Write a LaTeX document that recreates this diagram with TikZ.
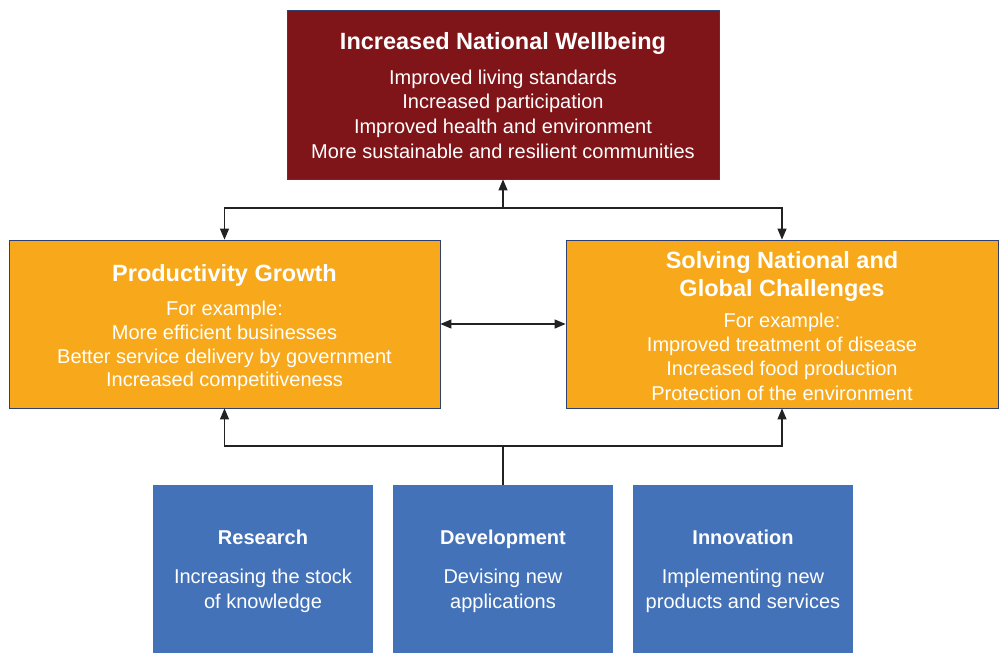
\documentclass[tikz,border=0pt]{standalone}
\usepackage{fontspec}
\setmainfont{Liberation Sans}
\usetikzlibrary{arrows.meta}
\definecolor{wine}{HTML}{7F1518}
\definecolor{amber}{HTML}{F7A81B}
\definecolor{steel}{HTML}{4472B8}
\definecolor{edge}{HTML}{2E3F73}
\definecolor{linec}{HTML}{222222}
\newcommand\ttlfont{\fontsize{23.5}{29}\selectfont\bfseries}
\newcommand\smttl{\fontsize{20}{24}\selectfont\bfseries}
\begin{document}
\begin{tikzpicture}[x=1pt,y=-1pt,
  shell/.style={inner sep=0pt},
  framed/.style={shell, draw=edge, line width=0.8pt},
  txt/.style={inner sep=0pt, align=center, text=white, font=\fontsize{20}{24.7}\selectfont},
  conn/.style={draw=linec, line width=1.2pt},
  arr/.style={conn, -{Triangle[length=11pt,width=9pt]}},
  darr/.style={conn, {Triangle[length=11pt,width=9pt]}-{Triangle[length=11pt,width=9pt]}}]
\useasboundingbox (0,0) rectangle (1001,664);
\node[framed, fill=wine, minimum width=432pt, minimum height=169pt] (top) at (503,94.5) {};
\node[framed, fill=amber, minimum width=431pt, minimum height=168pt] (prod) at (224.5,324) {};
\node[framed, fill=amber, minimum width=432pt, minimum height=168pt] (solve) at (782,324) {};
\node[shell, fill=steel, minimum width=220pt, minimum height=168pt] (res) at (263,569) {};
\node[shell, fill=steel, minimum width=220pt, minimum height=168pt] (dev) at (503,569) {};
\node[shell, fill=steel, minimum width=220pt, minimum height=168pt] (inn) at (743,569) {};
\node[txt] (toptxt) at ([yshift=-1pt]top.center)
  {\ttlfont Increased National Wellbeing\\[10pt]
   Improved living standards\\ Increased participation\\ Improved health and environment\\ More sustainable and resilient communities};
\node[txt] (prodtxt) at ([yshift=-3.5pt]prod.center)
  {\ttlfont Productivity Growth\\[10pt]
   For example:\\[-1pt] More efficient businesses\\[-1pt] Better service delivery by government\\[-1pt] Increased competitiveness};
\node[txt] (solvetxt) at ([yshift=-2pt]solve.center)
  {\ttlfont Solving National and\\[4pt] \ttlfont Global Challenges\\[6pt]
   For example:\\[-1pt] Improved treatment of disease\\ Increased food production\\ Protection of the environment};
\node[txt] (restxt) at ([yshift=-2.5pt]res.center)
  {\smttl Research\\[14pt] Increasing the stock\\ of knowledge};
\node[txt] (devtxt) at ([yshift=-2.5pt]dev.center)
  {\smttl Development\\[14pt] Devising new\\ applications};
\node[txt] (inntxt) at ([yshift=-2.5pt]inn.center)
  {\smttl Innovation\\[14pt] Implementing new\\ products and services};
\coordinate (j1) at (503,208);
\coordinate (j2) at (503,446);
\draw[arr] (j1) -- (top.south);
\draw[arr] (j1) -| (prod.north);
\draw[arr] (j1) -| (solve.north);
\draw[darr] (prod.east) -- (solve.west);
\draw[conn] (dev.north) -- (j2);
\draw[arr] (j2) -| (prod.south);
\draw[arr] (j2) -| (solve.south);
\end{tikzpicture}
\end{document}
